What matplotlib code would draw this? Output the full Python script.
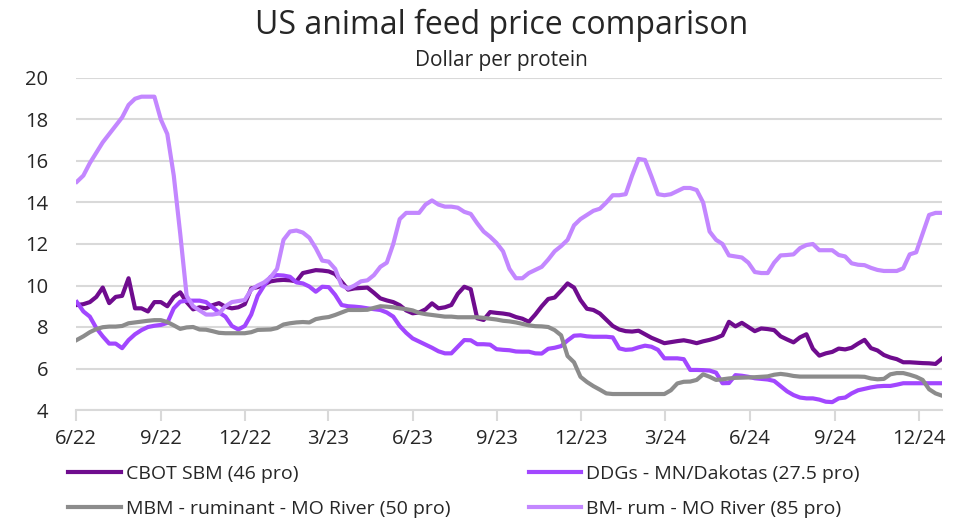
import matplotlib
matplotlib.use("Agg")
import matplotlib.pyplot as plt
import pandas as pd

plt.rcParams['font.family'] = ['Open Sans', 'DejaVu Sans']

# weekly observations, June 2022 - December 2024
dates = pd.date_range('2022-06-02', periods=135, freq='7D')

cbot_sbm = [
    9.06, 9.1, 9.2, 9.45, 9.9, 9.15, 9.45, 9.5, 10.35, 8.9,
    8.9, 8.75, 9.2, 9.2, 9.0, 9.45, 9.67, 9.2, 8.85, 8.95,
    8.9, 9.05, 9.15, 8.98, 8.9, 8.95, 9.1, 9.86, 9.92, 10.05,
    10.2, 10.25, 10.27, 10.25, 10.2, 10.6, 10.67, 10.74, 10.72, 10.68,
    10.55, 10.18, 9.8, 9.86, 9.88, 9.9, 9.65, 9.38, 9.28, 9.2,
    9.05, 8.8, 8.66, 8.7, 8.85, 9.14, 8.9, 8.95, 9.06, 9.6,
    9.94, 9.82, 8.42, 8.34, 8.72, 8.68, 8.65, 8.6, 8.48, 8.4,
    8.25, 8.6, 9.0, 9.35, 9.42, 9.75, 10.1, 9.9, 9.3, 8.88,
    8.82, 8.65, 8.35, 8.05, 7.88, 7.8, 7.78, 7.82, 7.65, 7.48,
    7.35, 7.22, 7.27, 7.32, 7.36, 7.3, 7.22, 7.31, 7.38, 7.47,
    7.6, 8.25, 8.03, 8.2, 8.0, 7.8, 7.93, 7.9, 7.85, 7.55,
    7.4, 7.26, 7.5, 7.65, 6.95, 6.62, 6.73, 6.8, 6.96, 6.92,
    7.0, 7.2, 7.38, 6.98, 6.87, 6.65, 6.53, 6.45, 6.3, 6.3,
    6.28, 6.26, 6.25, 6.22, 6.48,
]

ddgs = [
    9.2, 8.75, 8.5, 7.95, 7.55, 7.2, 7.2, 6.98, 7.37, 7.65,
    7.85, 8.0, 8.06, 8.1, 8.2, 8.9, 9.22, 9.27, 9.27, 9.27,
    9.2, 8.95, 8.7, 8.5, 8.05, 7.88, 8.05, 8.6, 9.5, 10.0,
    10.42, 10.5, 10.48, 10.42, 10.15, 10.1, 9.95, 9.7, 9.94, 9.92,
    9.55, 9.06, 9.0, 8.98, 8.95, 8.9, 8.86, 8.82, 8.7, 8.5,
    8.05, 7.72, 7.45, 7.3, 7.15, 7.0, 6.83, 6.73, 6.73, 7.05,
    7.37, 7.36, 7.17, 7.17, 7.15, 6.93, 6.9, 6.88, 6.82, 6.81,
    6.81, 6.73, 6.72, 6.95, 7.0, 7.08, 7.35, 7.58, 7.6, 7.55,
    7.53, 7.53, 7.53, 7.5, 6.97, 6.9, 6.92, 7.02, 7.1, 7.05,
    6.9, 6.49, 6.49, 6.49, 6.45, 5.93, 5.93, 5.92, 5.9, 5.8,
    5.29, 5.3, 5.68, 5.65, 5.6, 5.53, 5.5, 5.47, 5.4, 5.15,
    4.9, 4.72, 4.6, 4.56, 4.56, 4.5, 4.4, 4.38, 4.56, 4.6,
    4.8, 4.95, 5.02, 5.09, 5.14, 5.16, 5.16, 5.22, 5.29, 5.29,
    5.29, 5.29, 5.29, 5.29, 5.29,
]

mbm_ruminant = [
    7.38, 7.55, 7.75, 7.9, 7.99, 8.02, 8.02, 8.05, 8.18, 8.22,
    8.26, 8.3, 8.33, 8.33, 8.24, 8.08, 7.91, 7.98, 8.0, 7.88,
    7.87, 7.8, 7.72, 7.7, 7.7, 7.7, 7.7, 7.75, 7.86, 7.87,
    7.88, 7.95, 8.12, 8.18, 8.22, 8.24, 8.22, 8.38, 8.44, 8.48,
    8.58, 8.7, 8.82, 8.82, 8.82, 8.83, 8.92, 9.0, 8.98, 8.95,
    8.9, 8.86, 8.8, 8.68, 8.62, 8.58, 8.54, 8.5, 8.5, 8.47,
    8.47, 8.47, 8.47, 8.44, 8.4, 8.36, 8.3, 8.27, 8.22, 8.15,
    8.08, 8.04, 8.03, 8.0, 7.85, 7.6, 6.6, 6.3, 5.6, 5.35,
    5.15, 4.98, 4.8, 4.77, 4.77, 4.77, 4.77, 4.77, 4.77, 4.77,
    4.77, 4.77, 4.95, 5.28, 5.36, 5.37, 5.45, 5.72, 5.6, 5.45,
    5.48, 5.52, 5.55, 5.56, 5.57, 5.58, 5.6, 5.62, 5.7, 5.74,
    5.7, 5.64, 5.61, 5.61, 5.61, 5.61, 5.61, 5.61, 5.61, 5.61,
    5.61, 5.61, 5.6, 5.52, 5.48, 5.5, 5.72, 5.78, 5.78, 5.7,
    5.6, 5.45, 5.0, 4.8, 4.69,
]

bm_rum = [
    15.0, 15.3, 15.9, 16.4, 16.9, 17.3, 17.7, 18.1, 18.7, 19.0,
    19.1, 19.1, 19.1, 18.0, 17.3, 15.3, 12.5, 9.5, 9.0, 8.8,
    8.6, 8.6, 8.65, 9.0, 9.2, 9.25, 9.3, 9.8, 10.0, 10.15,
    10.4, 10.8, 12.2, 12.6, 12.65, 12.55, 12.3, 11.8, 11.2, 11.15,
    10.8, 10.0, 9.85, 10.0, 10.2, 10.25, 10.5, 10.9, 11.1, 12.0,
    13.2, 13.5, 13.5, 13.5, 13.9, 14.1, 13.9, 13.8, 13.8, 13.75,
    13.55, 13.45, 13.0, 12.6, 12.35, 12.05, 11.65, 10.8, 10.35, 10.35,
    10.6, 10.75, 10.9, 11.25, 11.65, 11.9, 12.2, 12.9, 13.2, 13.4,
    13.6, 13.7, 14.0, 14.35, 14.35, 14.4, 15.3, 16.1, 16.05, 15.25,
    14.4, 14.35, 14.4, 14.55, 14.7, 14.7, 14.6, 14.0, 12.6, 12.2,
    12.0, 11.45, 11.4, 11.35, 11.1, 10.65, 10.6, 10.6, 11.1, 11.45,
    11.47, 11.5, 11.8, 11.95, 12.0, 11.7, 11.7, 11.7, 11.47, 11.4,
    11.07, 11.0, 10.98, 10.85, 10.75, 10.7, 10.7, 10.7, 10.83, 11.5,
    11.6, 12.5, 13.4, 13.5, 13.5,
]

tick_dates = pd.date_range('2022-06-01', '2024-12-01', freq='3MS')
tick_labels = ['6/22', '9/22', '12/22', '3/23', '6/23', '9/23',
               '12/23', '3/24', '6/24', '9/24', '12/24']

fig = plt.figure(figsize=(9.64, 5.19), dpi=100)
ax = fig.add_axes([76 / 964, 1 - 410 / 519, 866 / 964, 332 / 519])

grid_col = '#d9d9d9'
l1, = ax.plot(dates, cbot_sbm, color='#6f0c8e', lw=3, label='CBOT SBM (46 pro)')
l2, = ax.plot(dates, ddgs, color='#a247ff', lw=3, label='DDGs - MN/Dakotas (27.5 pro)')
l3, = ax.plot(dates, mbm_ruminant, color='#8c8c8c', lw=3,
              label='MBM - ruminant - MO River (50 pro)')
l4, = ax.plot(dates, bm_rum, color='#c387ff', lw=3, label='BM- rum - MO River (85 pro)')

ax.set_ylim(4, 20)
ax.set_yticks(range(4, 21, 2))
ax.set_xlim(pd.Timestamp('2022-06-01'), pd.Timestamp('2024-12-26'))
ax.set_xticks(tick_dates)
ax.set_xticklabels(tick_labels)

ax.grid(axis='y', color=grid_col, lw=1.5)
ax.set_axisbelow(True)
for s in ['top', 'right', 'left']:
    ax.spines[s].set_visible(False)
ax.spines['bottom'].set_color(grid_col)
ax.spines['bottom'].set_linewidth(1.5)
ax.tick_params(axis='y', length=0, pad=20, labelsize=14.5, labelcolor='#262626')
ax.tick_params(axis='x', length=8, width=1.5, color=grid_col, pad=6,
               labelsize=14.5, labelcolor='#262626')

fig.text(0.52, 0.952, 'US animal feed price comparison', ha='center', va='center',
         fontsize=23, color='#262626')
fig.text(0.52, 0.884, 'Dollar per protein', ha='center', va='center',
         fontsize=15, color='#262626')

fig.legend([l1, l3, l2, l4], [l1.get_label(), l3.get_label(), l2.get_label(), l4.get_label()],
           ncol=2, loc='upper left', bbox_to_anchor=(68 / 964, 1 - 465 / 519),
           frameon=False, fontsize=14, handlelength=2.7, handletextpad=0.26,
           columnspacing=4.05, labelspacing=0.88, borderpad=0, borderaxespad=0,
           labelcolor='#262626')

fig.savefig('out.png', dpi=100)
